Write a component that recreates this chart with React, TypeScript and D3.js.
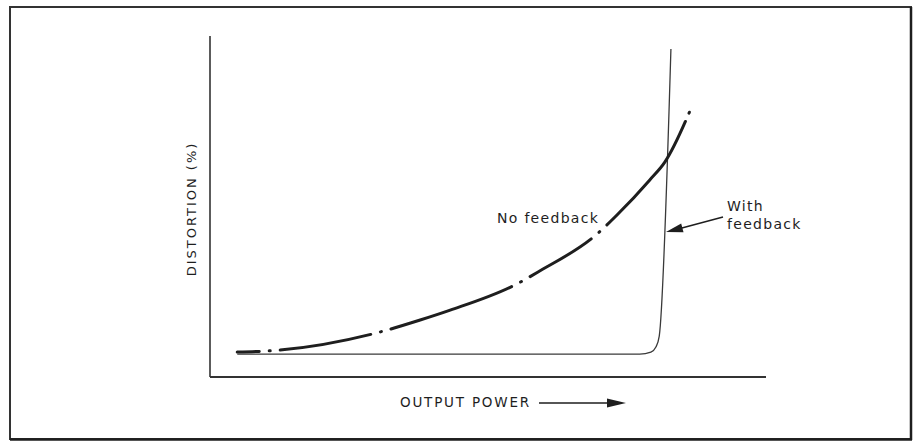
import * as d3 from "d3";
import React from "react";

// output power (0-100) vs distortion (0-100), arbitrary units
const noFeedbackPower = [4.9, 12.6, 30.6, 37.8, 43.2, 55.2, 59.0, 69.8, 73.2, 79.1, 81.8, 86.0, 86.7];
const noFeedbackDist = [7.3, 7.9, 13.2, 16.7, 19.6, 27.3, 30.8, 42.2, 47.5, 57.8, 63.0, 76.8, 79.5];

const withFeedbackPower = [4.9, 77.3, 79.3, 80.2, 80.8, 82.9];
const withFeedbackDist = [6.7, 6.7, 7.3, 8.8, 12.0, 96.2];

const xLabel = "OUTPUT POWER";
const yLabel = "DISTORTION (%)";
const seriesLabels = ["No feedback", "With", "feedback"];

export default function App() {
  const width = 914;
  const height = 441;
  const margin = { top: 36, right: 148, bottom: 64, left: 210 };

  const x = d3.scaleLinear().domain([0, 100]).range([margin.left, width - margin.right]);
  const y = d3.scaleLinear().domain([0, 100]).range([height - margin.bottom, margin.top]);

  const line = d3
    .line<[number, number]>()
    .x((d) => x(d[0]))
    .y((d) => y(d[1]))
    .curve(d3.curveMonotoneX);

  const noFb = noFeedbackPower.map((p, i) => [p, noFeedbackDist[i]] as [number, number]);
  const withFb = withFeedbackPower.map((p, i) => [p, withFeedbackDist[i]] as [number, number]);

  const ink = "#1e1e1e";
  const font = "'DejaVu Sans', sans-serif";
  const x0 = x(0);
  const y0 = y(0);

  return (
    <svg
      width={width}
      height={height}
      style={{ position: "absolute", left: 0, top: 0, background: "#fff" }}
    >
      {/* frame */}
      <rect x={10} y={7} width={901} height={432} fill="none" stroke="#333" strokeWidth={2} />
      <line x1={911} y1={7} x2={911} y2={440} stroke={ink} strokeWidth={2.5} />
      <line x1={10} y1={439.5} x2={912} y2={439.5} stroke={ink} strokeWidth={2.5} />

      {/* axes */}
      <line x1={x0} y1={y(100)} x2={x0} y2={y0} stroke="#333" strokeWidth={1.6} />
      <line x1={x0} y1={y0} x2={width - margin.right} y2={y0} stroke="#333" strokeWidth={1.8} />

      {/* curves */}
      <path d={line(withFb) || ""} fill="none" stroke="#3a3a3a" strokeWidth={1.3} />
      <path
        d={line(noFb) || ""}
        fill="none"
        stroke={ink}
        strokeWidth={3}
        strokeLinecap="round"
        strokeDasharray="22 10 1 10 92 10 1 10 128 10 1 10 72 10 1 10 131 9 1 80"
      />

      {/* axis labels */}
      <text
        transform={`translate(196,${209}) rotate(-90)`}
        textAnchor="middle"
        fontFamily={font}
        fontSize={13}
        letterSpacing={2}
        fill={ink}
      >
        {yLabel}
      </text>
      <text x={400} y={407} fontFamily={font} fontSize={13.5} letterSpacing={1.8} fill={ink}>
        {xLabel}
      </text>
      <line x1={539} y1={403} x2={612} y2={403} stroke={ink} strokeWidth={1.5} />
      <path d="M626,403 L607,398.5 L607,407.5 Z" fill={ink} />

      {/* series labels */}
      <text x={497} y={223} fontFamily={font} fontSize={14} letterSpacing={1.3} fill={ink}>
        {seriesLabels[0]}
      </text>
      <text x={727} y={211} fontFamily={font} fontSize={14} letterSpacing={1.3} fill={ink}>
        {seriesLabels[1]}
      </text>
      <text x={727} y={229} fontFamily={font} fontSize={14} letterSpacing={1.3} fill={ink}>
        {seriesLabels[2]}
      </text>
      <line x1={723} y1={217} x2={680} y2={228.5} stroke={ink} strokeWidth={1.5} />
      <path d="M666,232 L683.5,232.2 L681.2,223.6 Z" fill={ink} />
    </svg>
  );
}
